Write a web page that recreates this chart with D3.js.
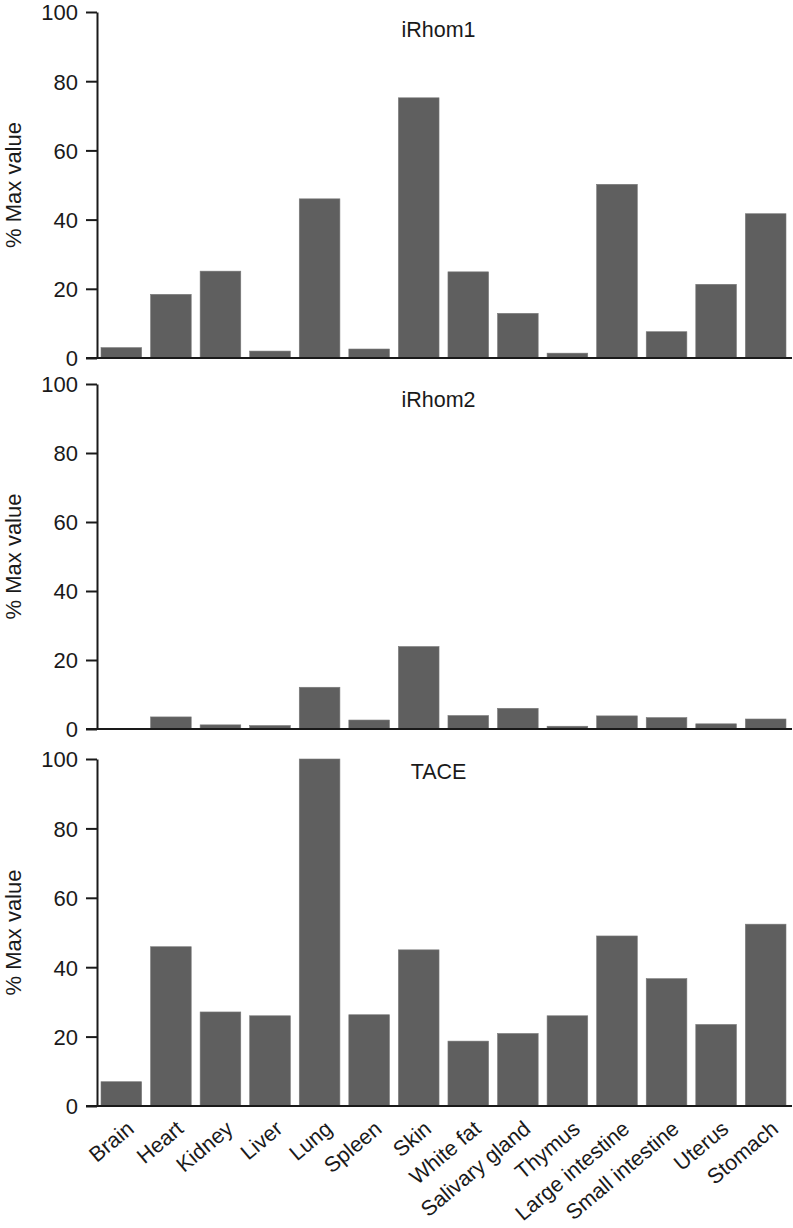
<!DOCTYPE html>
<html>
<head>
<meta charset="utf-8">
<script src="https://cdn.jsdelivr.net/npm/d3@7"></script>
<style>
  html, body { margin: 0; padding: 0; background: #fff; }
  svg { display: block; }
  text { font-family: "Liberation Sans", Arial, Helvetica, sans-serif; fill: #1a1a1a; }
</style>
</head>
<body>
<svg id="chart" width="793" height="1228"></svg>
<script>
const categories = ["Brain", "Heart", "Kidney", "Liver", "Lung", "Spleen", "Skin", "White fat",
  "Salivary gland", "Thymus", "Large intestine", "Small intestine", "Uterus", "Stomach"];
const panelTitles = ["iRhom1", "iRhom2", "TACE"];
const iRhom1Values = [3.0, 18.4, 25.1, 2.0, 46.0, 2.6, 75.2, 24.9, 12.9, 1.4, 50.2, 7.6, 21.3, 41.7];
const iRhom2Values = [0, 3.5, 1.2, 1.0, 12.1, 2.6, 23.9, 3.9, 6.0, 0.8, 3.8, 3.3, 1.5, 2.9];
const taceValues   = [7.0, 45.9, 27.1, 26.0, 100, 26.3, 45.0, 18.7, 20.9, 26.0, 49.0, 36.7, 23.5, 52.4];
const yTicks = [0, 20, 40, 60, 80, 100];
const yLabel = "% Max value";

const seriesList = [iRhom1Values, iRhom2Values, taceValues];

const svg = d3.select("#chart");
const axisX = 97, rightX = 792;
const panels = [
  { top: 12, bottom: 358, titleY: 37 },
  { top: 384, bottom: 729, titleY: 407 },
  { top: 759, bottom: 1106, titleY: 779 }
];

const x = d3.scaleBand().domain(categories).range([101, 786]).paddingInner(0.18).paddingOuter(0);

panels.forEach((p, i) => {
  const y = d3.scaleLinear().domain([0, 100]).range([p.bottom, p.top]);
  const g = svg.append("g");
  const vals = seriesList[i];

  // bars
  g.selectAll("rect.bar").data(categories).join("rect")
    .attr("class", "bar")
    .attr("x", d => x(d))
    .attr("width", x.bandwidth())
    .attr("y", (d, j) => y(vals[j]))
    .attr("height", (d, j) => y(0) - y(vals[j]))
    .attr("fill", "#5f5f5f")
    .attr("stroke", "#7a7a7a")
    .attr("stroke-width", 0.6);

  // y axis
  const ya = g.append("g").attr("transform", `translate(${axisX},0)`)
    .call(d3.axisLeft(y).tickValues(yTicks).tickSize(11).tickPadding(8).tickSizeOuter(0));
  ya.select(".domain").attr("stroke", "#1a1a1a").attr("stroke-width", 2);
  ya.selectAll(".tick line").attr("stroke", "#1a1a1a").attr("stroke-width", 2);
  ya.selectAll(".tick text").attr("font-size", 22).attr("dy", "0.36em")
    .attr("font-family", "'Liberation Sans', Arial, sans-serif").attr("fill", "#1a1a1a");

  // x baseline
  g.append("line")
    .attr("x1", axisX - 11).attr("x2", rightX)
    .attr("y1", y(0)).attr("y2", y(0))
    .attr("stroke", "#1a1a1a").attr("stroke-width", 2);

  // title
  g.append("text").attr("x", 438.5).attr("y", p.titleY)
    .attr("text-anchor", "middle")
    .attr("font-size", 21.5).text(panelTitles[i]);

  // y label
  g.append("text")
    .attr("transform", `translate(21,${(p.top + p.bottom) / 2}) rotate(-90)`)
    .attr("text-anchor", "middle")
    .attr("font-size", 22)
    .text(yLabel);

  // x labels on bottom panel
  if (i === panels.length - 1) {
    g.selectAll("text.xl").data(categories).join("text")
      .attr("class", "xl")
      .attr("text-anchor", "end")
      .attr("font-size", 21.5)
      .attr("transform", d => `translate(${x(d) + x.bandwidth() / 2 + 14},${y(0) + 25}) rotate(-40)`)
      .text(d => d);
  }
});
</script>
</body>
</html>
